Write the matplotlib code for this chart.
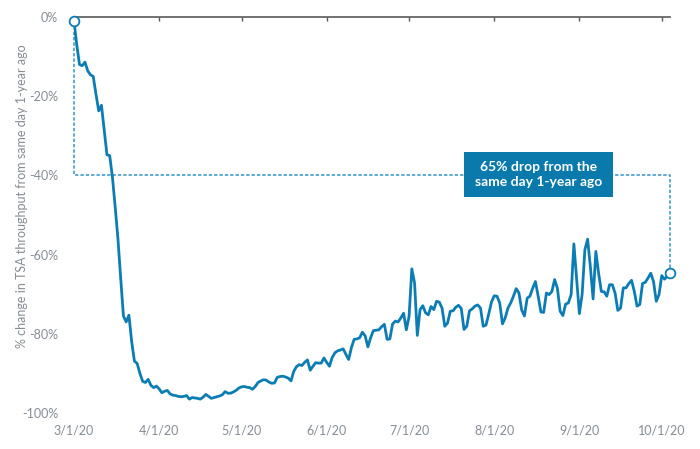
import matplotlib
matplotlib.use("Agg")
import matplotlib.pyplot as plt
from matplotlib.patches import Rectangle
import pandas as pd

# Daily % change in TSA throughput vs same day 1-year ago, starting 3/1/2020
start_date = "2020-03-01"
pct_change = [
    -1, -7, -12, -12.3, -11.4, -13.6, -14.6, -15, -19.5, -23.7,
    -22.3, -28.5, -34.8, -35, -40.5, -48, -56, -66, -75.5, -77,
    -75.3, -82, -86.9, -87.5, -90, -92, -92.3, -91.5, -93, -93.6,
    -93.2, -93.9, -94.9, -94.5, -94.3, -95.2, -95.5, -95.6, -95.8, -95.9,
    -95.8, -95.6, -96.5, -96.1, -96.2, -96.3, -96.5, -96, -95.3, -95.8,
    -96.3, -96.1, -95.9, -95.7, -95.4, -94.6, -95, -95, -94.7, -94.3,
    -93.7, -93.4, -93.3, -93.5, -93.6, -94, -93.3, -92.3, -91.9, -91.6,
    -91.7, -92.2, -92.5, -92.4, -91, -90.8, -90.7, -90.9, -91.2, -91.9,
    -89.5, -88.3, -87.8, -88, -87.2, -86.6, -89.2, -88.2, -87.3, -87.4,
    -87.4, -86.1, -87.2, -88.2, -86, -84.8, -84.3, -84.1, -83.8, -85.2,
    -86.5, -83.5, -81.4, -81.3, -81, -79.6, -80.5, -83.3, -81, -79.2,
    -79.1, -79, -78.2, -77.6, -81.4, -81.3, -77.5, -76.8, -77, -76,
    -74.8, -79, -75.6, -63.6, -67.2, -80.4, -73.9, -72.9, -74.7, -75.2,
    -73.1, -73.9, -71.8, -72, -73.5, -78.1, -77.3, -74.3, -74.2, -73.3,
    -72.8, -73.6, -78.9, -78.1, -74.2, -73.7, -73, -72.7, -73.5, -78.1,
    -77.8, -75, -72, -70.4, -70.5, -72.2, -77.5, -76, -73.5, -72.2,
    -70.5, -68.6, -69.7, -74, -75.5, -71, -70.5, -68.5, -66.8, -70.5,
    -74.5, -74.6, -69.7, -70.1, -69.3, -66.3, -68.5, -74.3, -75.4, -72.5,
    -72.2, -70.1, -57.3, -66, -74.9, -70.1, -58.8, -56.1, -63, -71.2,
    -59.2, -64.7, -69.3, -69.4, -70.5, -67.6, -67.6, -69.7, -74.1, -73.5,
    -68.4, -68.4, -67.3, -66.5, -69.3, -73, -72.6, -67.3, -67, -65.9,
    -64.7, -66.8, -71.8, -70.1, -65.3, -66.2, -65.5, -64.7,
]
tick_dates = ["2020-03-01", "2020-04-01", "2020-05-01", "2020-06-01",
              "2020-07-01", "2020-08-01", "2020-09-01", "2020-10-01"]
tick_labels = ["3/1/20", "4/1/20", "5/1/20", "6/1/20",
               "7/1/20", "8/1/20", "9/1/20", "10/1/20"]
y_ticks = [0, -20, -40, -60, -80, -100]
y_tick_labels = ["0%", "-20%", "-40%", "-60%", "-80%", "-100%"]
guide_level = -40
annotation_text = "65% drop from the\nsame day 1-year ago"

dates = pd.date_range(start=start_date, periods=len(pct_change), freq="D")

LINE = "#0c7db4"
DASH = "#3592c8"
BOX = "#0a7aad"
GRAY = "#858c95"

plt.rcParams["font.family"] = ["Lato", "DejaVu Sans"]

fig = plt.figure(figsize=(7.0, 4.49), dpi=100)
ax = fig.add_axes([74 / 700, 1 - 413 / 449, (670 - 74) / 700, (413 - 17) / 449])

ax.plot(dates, pct_change, color=LINE, lw=2.0, solid_joinstyle="round", zorder=3)

first_d, last_d = dates[0], dates[-1]
first_v, last_v = pct_change[0], pct_change[-1]
ax.plot([first_d, first_d, last_d, last_d], [first_v, guide_level, guide_level, last_v],
        color=DASH, lw=1.1, ls=(0, (2.2, 1.3)), zorder=2, clip_on=False)
ax.plot([first_d, last_d], [first_v, last_v], ls="none", marker="o", ms=7,
        mfc="white", mec=LINE, mew=1.3, zorder=5, clip_on=False)

# annotation box (axes coordinates)
bx0, bx1, by0, by1 = 0.654, 0.904, 0.545, 0.659
ax.add_patch(Rectangle((bx0, by0), bx1 - bx0, by1 - by0, transform=ax.transAxes,
                       fc=BOX, ec="none", zorder=6))
ax.text((bx0 + bx1) / 2, (by0 + by1) / 2, annotation_text, transform=ax.transAxes,
        ha="center", va="center", color="white", fontsize=10, fontweight="bold",
        linespacing=1.25, zorder=7)

ax.set_xlim(dates[0], dates[-1])
ax.set_ylim(-100, 0)

ax.set_xticks(pd.to_datetime(tick_dates))
ax.set_xticklabels(tick_labels)
ax.set_yticks(y_ticks)
ax.set_yticklabels(y_tick_labels)

for s in ["left", "right", "bottom"]:
    ax.spines[s].set_visible(False)
ax.spines["top"].set_color("#666666")
ax.spines["top"].set_linewidth(1.3)

ax.tick_params(axis="x", top=True, bottom=False, labeltop=False, labelbottom=True,
               direction="in", length=3, width=1, color="#555555",
               labelcolor=GRAY, labelsize=9, pad=8)
ax.tick_params(axis="y", left=False, labelcolor=GRAY, labelsize=9, pad=8)

ax.set_ylabel("% change in TSA throughput from same day 1-year ago", color=GRAY,
              fontsize=9)
ax.yaxis.set_label_coords(-0.078, 0.548)

fig.savefig("out.png", dpi=100)
